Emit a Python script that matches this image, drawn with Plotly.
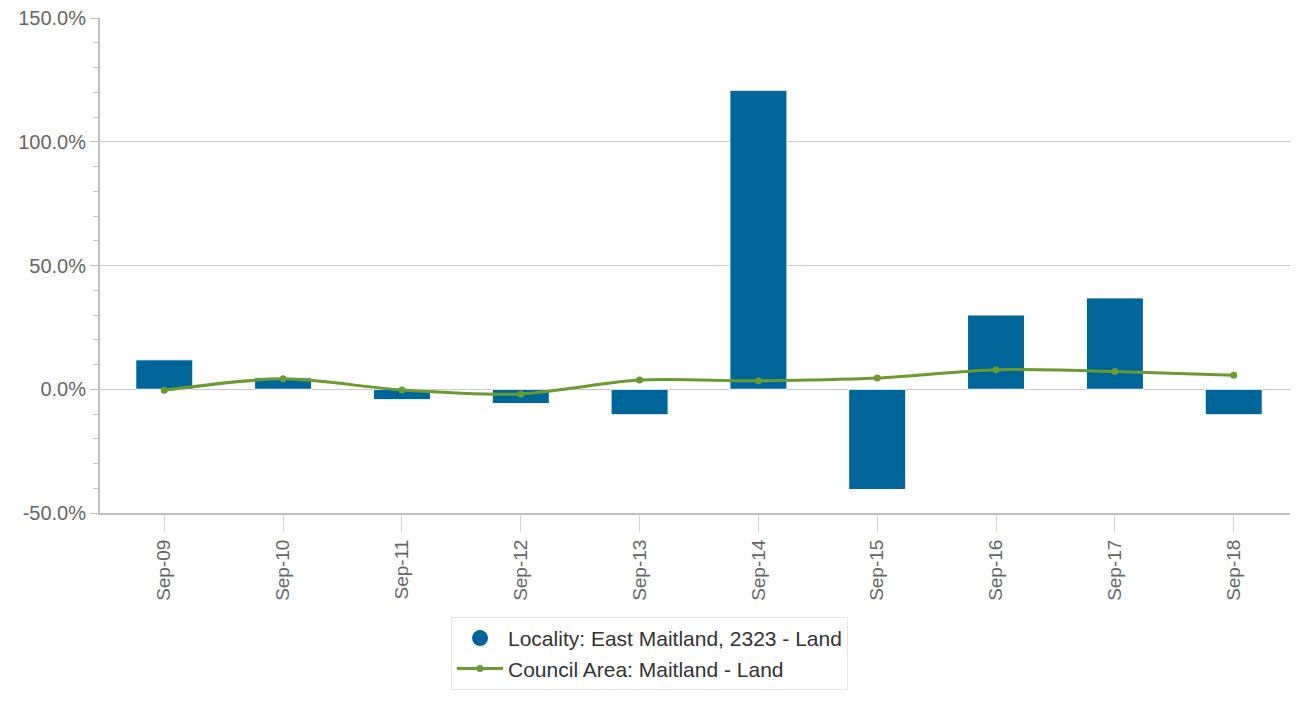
import plotly.graph_objects as go

categories = ["Sep-09", "Sep-10", "Sep-11", "Sep-12", "Sep-13", "Sep-14", "Sep-15", "Sep-16", "Sep-17", "Sep-18"]
locality = [11.9, 4.6, -4.2, -5.8, -10.3, 120.8, -40.5, 30.0, 36.9, -10.3]
council = [-0.4, 4.2, -0.3, -1.9, 3.7, 3.4, 4.5, 7.9, 7.2, 5.7]
y_ticks = [-50, 0, 50, 100, 150]
y_tick_labels = ["-50.0%", "0.0%", "50.0%", "100.0%", "150.0%"]

locality_name = "Locality: East Maitland, 2323 - Land"
council_name = "Council Area: Maitland - Land"

BLUE = "#006699"
GREEN = "#6a9a31"
FONT = "Liberation Sans"

fig = go.Figure()
fig.add_trace(go.Bar(
    x=categories, y=locality, name=locality_name,
    marker=dict(color=BLUE, line=dict(color="white", width=1)),
    width=0.48, showlegend=False,
))
fig.add_trace(go.Scatter(
    x=[None], y=[None], mode="markers", name=locality_name,
    marker=dict(color=BLUE, size=18, symbol="circle"),
))
fig.add_trace(go.Scatter(
    x=categories, y=council, name=council_name, mode="lines+markers",
    line=dict(color=GREEN, width=3, shape="spline", smoothing=0.8),
    marker=dict(color=GREEN, size=7),
))

fig.update_layout(
    width=1290, height=696,
    margin=dict(l=92, r=0, t=10, b=191),
    paper_bgcolor="white", plot_bgcolor="white",
    font=dict(family=FONT, color="#666666", size=20),
    bargap=0.52,
    legend=dict(
        orientation="v", x=0.293, xanchor="left", y=-0.21, yanchor="top",
        bordercolor="#e6e6e6", borderwidth=1, bgcolor="white",
        font=dict(family=FONT, size=21, color="#333333"),
        itemwidth=46,
    ),
)
fig.update_xaxes(
    type="category", showline=True, linecolor="#c0c0c0", linewidth=2,
    ticks="outside", ticklen=17, tickcolor="#ccd6eb", tickwidth=1,
    tickangle=-90, showgrid=False, automargin=False,
    tickfont=dict(family=FONT, size=19, color="#666666"),
)
fig.update_yaxes(
    range=[-50, 150], tickvals=y_ticks, ticktext=y_tick_labels,
    showgrid=True, gridcolor="#c8c8c8", gridwidth=1, zeroline=False,
    showline=True, linecolor="#c0c0c0", linewidth=2, automargin=False,
    ticklabeloverflow="allow",
    ticks="outside", ticklen=8, tickcolor="#c0c0c0", tickwidth=1,
    minor=dict(dtick=10, tick0=0, ticks="outside", ticklen=5, tickcolor="#c0c0c0", showgrid=False),
    tickfont=dict(family=FONT, size=20, color="#666666"),
)

fig.write_html("out.html")
